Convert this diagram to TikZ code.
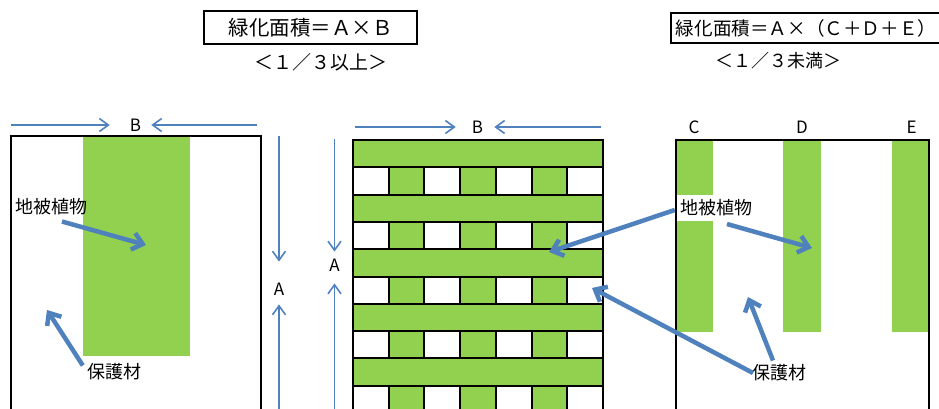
\documentclass[tikz,border=0pt]{standalone}
\usepackage{fontspec}
\setmainfont{Noto Sans CJK JP}
\usepackage{tikz}
\usetikzlibrary{positioning, calc, arrows.meta}

\definecolor{leaf}{RGB}{146,208,80}
\definecolor{mark}{RGB}{79,129,189}

\tikzset{
    edgeline/.style={line width=2pt},
    band/.style={fill=leaf, draw=none},
    titlebox/.style={draw, line width=1.8pt, inner sep=0pt, font=\fontsize{19}{19}\selectfont},
    sub/.style={inner sep=1pt, font=\fontsize{19}{19}\selectfont},
    letter/.style={inner xsep=4pt, inner ysep=4pt, font=\fontsize{17}{17}\selectfont},
    tag/.style={inner sep=1pt, font=\fontsize{18}{18}\selectfont},
    dim/.style={draw=mark, line width=1.6pt, -{Straight Barb[length=9pt,width=13pt]}},
    callout/.style={draw=mark, line width=4.5pt, -{Straight Barb[length=10pt,width=17pt]}}
}

\begin{document}
\begin{tikzpicture}[x=1pt, y=-1pt]
    \clip (0,0) rectangle (939,408);

    % titles
    \node[titlebox, font=\fontsize{20.5}{20.5}\selectfont, minimum width=213pt, minimum height=33pt] (T1) at (310.5,27.5) {緑化面積＝Ａ×Ｂ};
    \node[sub] (S1) at (320.5,62) {＜１／３以上＞};
    \draw[line width=1.8pt] (670.7,13) rectangle (950,43);
    \node[titlebox, draw=none, font=\fontsize{18.6}{18.6}\selectfont] (T2) at (806,28) {緑化面積＝Ａ×（Ｃ＋Ｄ＋Ｅ）};
    \node[sub, font=\fontsize{18}{18}\selectfont] (S2) at (778.5,61) {＜１／３未満＞};

    % left panel
    \fill[band] (83,136) rectangle (190,356);
    \draw[edgeline] (11,136) rectangle (261,430);

    % middle panel
    \foreach \r in {0,2,4,6,8}
        \filldraw[fill=leaf, edgeline] (353,{140+27.3*\r}) rectangle ++(250,27.3);
    \foreach \r in {1,3,5,7,9}
        \foreach \c/\f in {0/white,1/leaf,2/white,3/leaf,4/white,5/leaf,6/white}
            \filldraw[fill=\f, edgeline] ({353+250/7*\c},{140+27.3*\r}) rectangle ++(250/7,27.3);

    % right panel
    \fill[band] (676,140) rectangle (713,332);
    \fill[band] (783,140) rectangle (821,332);
    \fill[band] (892,140) rectangle (929,332);
    \node[tag, fill=white, inner xsep=3pt, inner ysep=4.5pt] (GR) at (716,208) {地被植物};
    \draw[edgeline] (676,140) rectangle (929,430);

    % dimension labels
    \node[letter] (B1) at (135.5,125) {B};
    \node[letter] (B2) at (477.5,127) {B};
    \node[letter] (A1) at (279,289) {A};
    \node[letter] (A2) at (334.5,265) {A};
    \node[letter] (C) at (694,127) {C};
    \node[letter] (D) at (802,127) {D};
    \node[letter] (E) at (911.5,127) {E};

    \coordinate (b1l) at (11,125);
    \coordinate (b1r) at (257,125);
    \coordinate (b2l) at (355,127);
    \coordinate (b2r) at (601,127);
    \coordinate (a1t) at (279,136);
    \coordinate (a1b) at (279,415);
    \coordinate (a2t) at (334.5,139);
    \coordinate (a2b) at (334.5,415);

    \draw[dim, shorten >=16pt] (b1l) -- (B1);
    \draw[dim, shorten >=6pt] (b1r) -- (B1);
    \draw[dim, shorten >=12pt] (b2l) -- (B2);
    \draw[dim, shorten >=7pt] (b2r) -- (B2);
    \draw[dim, shorten >=17pt] (a1t) -- (A1);
    \draw[dim, shorten >=5pt] (a1b) -- (A1);
    \draw[dim, shorten >=3pt] (a2t) -- (A2);
    \draw[dim, shorten >=8pt] (a2b) -- (A2);

    % callouts
    \node[tag] (GL) at (51,207) {地被植物};
    \node[tag] (PL) at (114,372) {保護材};
    \node[tag] (PR) at (779,373) {保護材};

    \coordinate (gl) at (146,245);
    \coordinate (pl) at (47,310);
    \coordinate (gr1) at (549,252);
    \coordinate (gr2) at (812,248);
    \coordinate (pr1) at (592,288);
    \coordinate (pr2) at (748,297);

    \draw[callout] ([xshift=11pt, yshift=-5pt]GL.south) -- (gl);
    \draw[callout] ([xshift=-3pt, yshift=-3pt]PL.north west) -- (pl);
    \draw[callout] ([xshift=-2pt, yshift=-2pt]GR.west) -- (gr1);
    \draw[callout] ([xshift=11pt, yshift=-3pt]GR.south) -- (gr2);
    \draw[callout] ([xshift=-26pt]PR.center) -- (pr1);
    \draw[callout] ([xshift=-6pt, yshift=3pt]PR.north) -- (pr2);
\end{tikzpicture}
\end{document}
